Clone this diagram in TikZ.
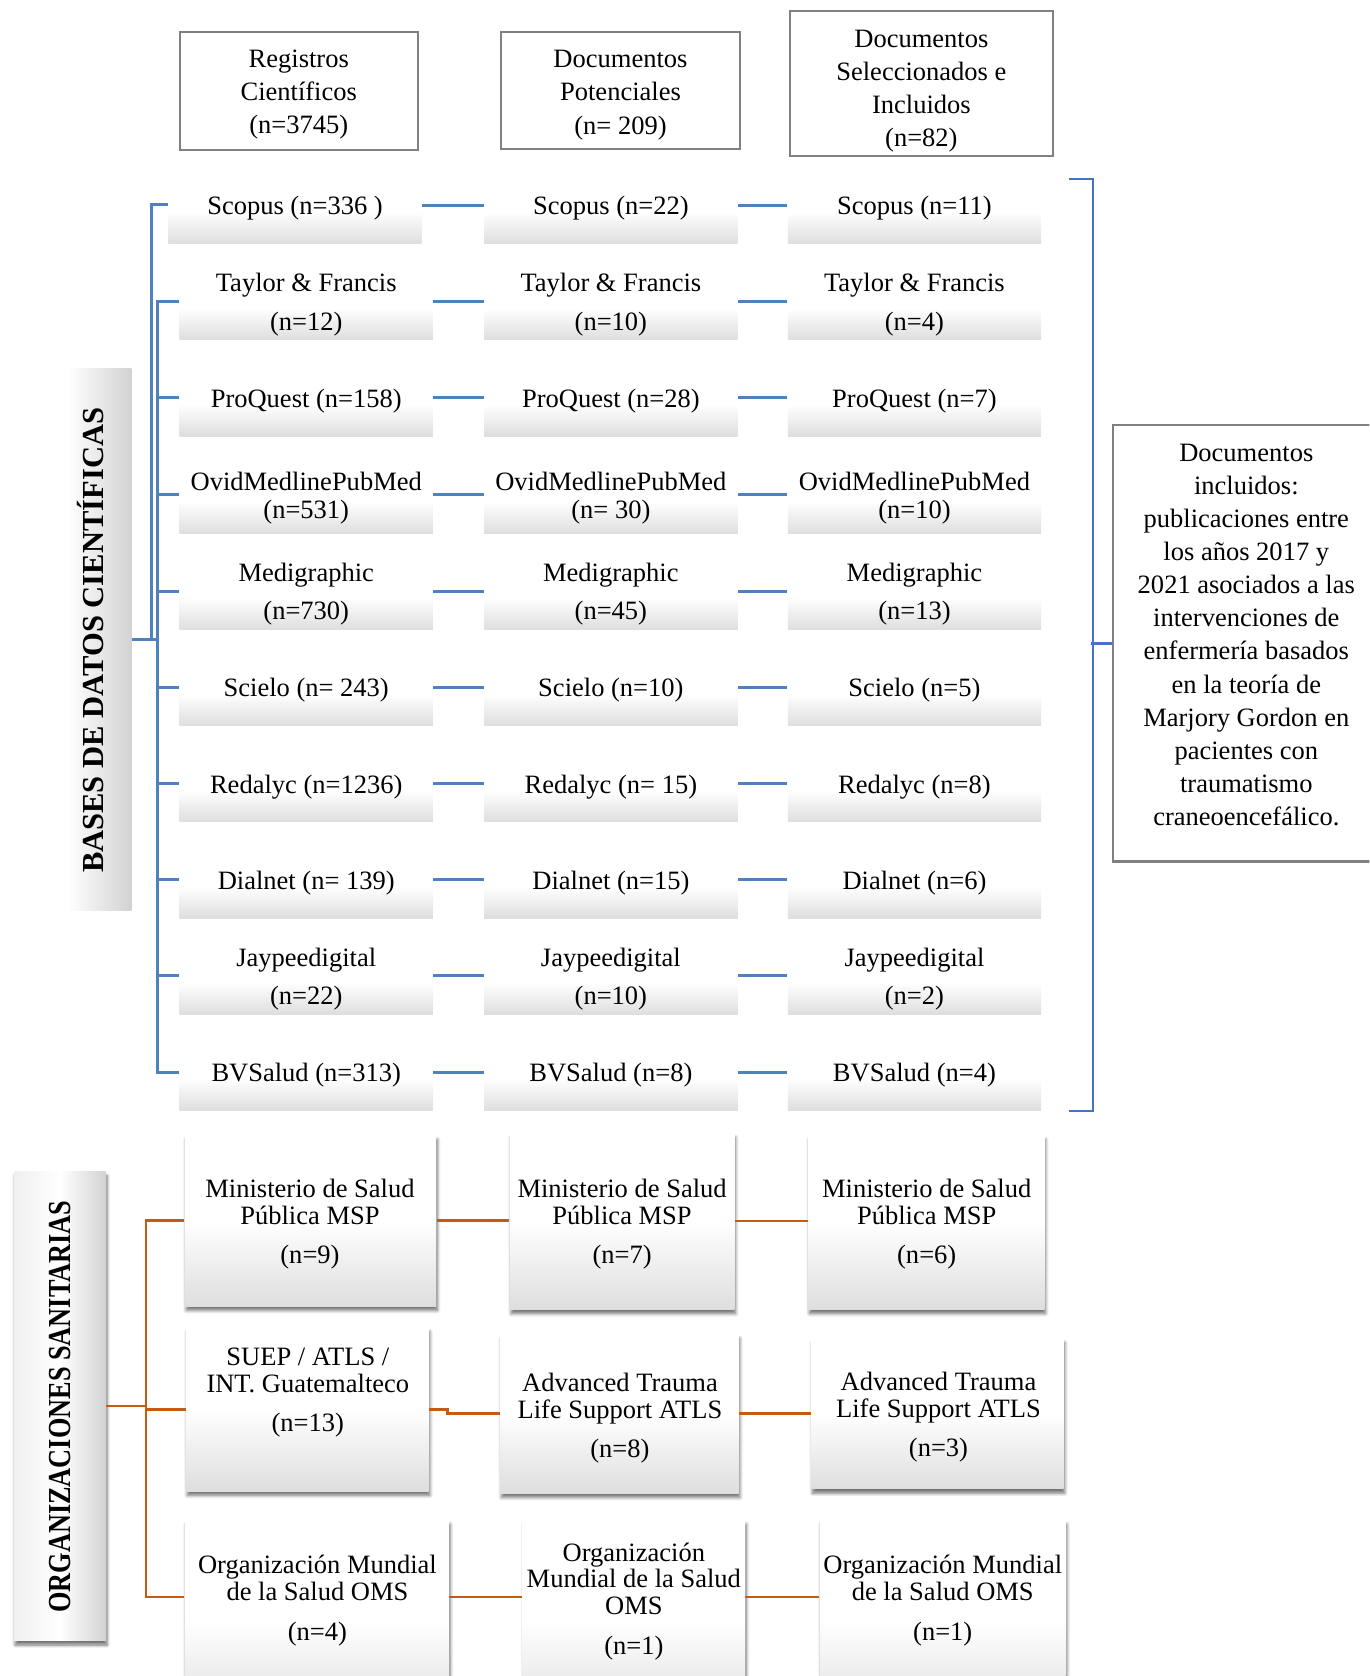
\documentclass[tikz,border=0pt]{standalone}
\usepackage{fontspec}
\setmainfont{Liberation Serif}
\usetikzlibrary{shadows.blur}
\definecolor{dbblue}{RGB}{79,129,189}
\definecolor{brblue}{RGB}{68,114,196}
\definecolor{orgor}{RGB}{197,90,17}
\definecolor{hdgray}{RGB}{128,128,128}
\definecolor{shgray}{RGB}{222,222,222}
\newcommand\mf{\fontsize{12.4}{15.5}\selectfont}
\tikzset{
  dbbox/.style={shade, top color=white, bottom color=shgray, middle color=white,
    minimum width=118.5pt, minimum height=30pt, inner sep=0pt},
  dbtxt/.style={align=center, inner sep=0pt},
  hdr/.style={draw=hdgray, line width=1pt, inner sep=0pt},
  hdrtxt/.style={align=center, font=\mf, inner sep=0pt},
  dbl/.style={draw=dbblue, line width=1.4pt},
  brk/.style={draw=brblue, line width=1pt},
  orgln/.style={draw=orgor, line width=1.2pt},
  softshadow/.style={blur shadow={shadow xshift=0.6pt, shadow yshift=-2pt, shadow blur radius=1.5pt, shadow blur steps=6, shadow opacity=55}},
  orgbox/.style={shade, top color=white, bottom color=shgray, middle color=white,
    inner sep=0pt, softshadow},
  orgtxt/.style={align=center, inner sep=0pt, font=\fontsize{12.4}{12.5}\selectfont},
  sidepanel/.style={shade, left color=white, right color=gray!35, inner sep=0pt},
}
\begin{document}
\begin{tikzpicture}[x=0.5pt,y=-0.5pt]
\useasboundingbox (0,0) rectangle (1281,1568);
\clip (0,0) rectangle (1281,1568);

% header boxes
\node[hdr, minimum width=111.5pt, minimum height=55pt] (h1) at (279.5,85) {};
\node[hdr, minimum width=111.5pt, minimum height=54.5pt] (h2) at (580.5,84.5) {};
\node[hdr, minimum width=123pt, minimum height=68pt] (h3) at (862,78) {};
\node[hdrtxt] (h1t) at (279.5,88.5) {Registros\\Científicos\\(n=3745)};
\node[hdrtxt] (h2t) at (580.5,89) {Documentos\\Potenciales\\(n= 209)};
\node[hdrtxt] (h3t) at (862,85.5) {Documentos\\Seleccionados e\\Incluidos\\(n=82)};

% database label
\node[sidepanel, minimum width=30pt, minimum height=253.5pt] (dblab) at (93,598.5) {};
\node[rotate=90, inner sep=0pt, font=\fontsize{14.3}{14.3}\selectfont\bfseries] (dbtext) at (85,599) {BASES DE DATOS CIENTÍFICAS};

% database rows
\foreach \ri/\cy/\xa/\bsk/\ta/\tb/\tc in {
1/198/276/18/{Scopus (n=336 )}/{Scopus (n=22)}/{Scopus (n=11)},
2/288/286.5/18/{Taylor \& Francis\\(n=12)}/{Taylor \& Francis\\(n=10)}/{Taylor \& Francis\\(n=4)},
3/378/286.5/18/{ProQuest (n=158)}/{ProQuest (n=28)}/{ProQuest (n=7)},
4/469/286.5/13/{OvidMedlinePubMed\\(n=531)}/{OvidMedlinePubMed\\(n= 30)}/{OvidMedlinePubMed\\(n=10)},
5/559/286.5/18/{Medigraphic\\(n=730)}/{Medigraphic\\(n=45)}/{Medigraphic\\(n=13)},
6/649/286.5/18/{Scielo (n= 243)}/{Scielo (n=10)}/{Scielo (n=5)},
7/739/286.5/18/{Redalyc (n=1236)}/{Redalyc (n= 15)}/{Redalyc (n=8)},
8/829/286.5/18/{Dialnet (n= 139)}/{Dialnet (n=15)}/{Dialnet (n=6)},
9/919/286.5/18/{Jaypeedigital\\(n=22)}/{Jaypeedigital\\(n=10)}/{Jaypeedigital\\(n=2)},
10/1009/286.5/18/{BVSalud (n=313)}/{BVSalud (n=8)}/{BVSalud (n=4)}}
{
  \node[dbbox] (a\ri) at (\xa,\cy) {};
  \node[dbbox] (b\ri) at (571.5,\cy) {};
  \node[dbbox] (c\ri) at (855.5,\cy) {};
  \node[dbtxt, font=\fontsize{12.4}{\bsk}\selectfont] (ta\ri) at ([yshift=1.5pt]a\ri.center) {\ta};
  \node[dbtxt, font=\fontsize{12.4}{\bsk}\selectfont] (tb\ri) at ([yshift=1.5pt]b\ri.center) {\tb};
  \node[dbtxt, font=\fontsize{12.4}{\bsk}\selectfont] (tc\ri) at ([yshift=1.5pt]c\ri.center) {\tc};
  \draw[dbl] ([yshift=3pt]a\ri.east) -- ([yshift=3pt]b\ri.west);
  \draw[dbl] ([yshift=3pt]b\ri.east) -- ([yshift=3pt]c\ri.west);
}
\draw[dbl] (dblab.east) -- ++(18,0) |- ([yshift=3.5pt]a1.west);
\foreach \ri in {2,...,10}{
  \draw[dbl] (dblab.east) -- ++(24,0) |- ([yshift=3pt]a\ri.west);
}

% right bracket and summary box
\node[draw=hdgray, line width=1pt, minimum width=125pt, minimum height=204pt, inner sep=0pt] (rbox) at (1166,602) {};
\node[align=center, inner sep=0pt, font=\mf] (rtext) at (1166,594) {Documentos\\incluidos:\\publicaciones entre\\los años 2017 y\\2021 asociados a las\\intervenciones de\\enfermería basados\\en la teoría de\\Marjory Gordon en\\pacientes con\\traumatismo\\craneoencefálico.};
\draw[brk] ([xshift=13pt]c1.north east) -- ([xshift=24pt]c1.north east) -- ([xshift=24pt]c10.south east) -- ([xshift=13pt]c10.south east);
\draw[brk] (rbox.west) -- ++(-19,0);

% organizations label
\node[sidepanel, left color=gray!12, right color=gray!35, middle color=white, minimum width=43pt, minimum height=219.5pt,
  softshadow] (orgl) at (56,1315.5) {};
\node[rotate=90, inner sep=0pt, font=\fontsize{15}{15}\selectfont\bfseries] (orgtext) at (56,1316) {\scalebox{0.82}[1]{ORGANIZACIONES SANITARIAS}};

% organization boxes
\node[orgbox, minimum width=117.5pt, minimum height=80pt] (o1a) at (290.5,1142) {};
\node[orgbox, minimum width=105pt, minimum height=82.5pt] (o1b) at (582,1142.5) {};
\node[orgbox, minimum width=110.5pt, minimum height=81.5pt] (o1c) at (866.5,1143.5) {};
\node[orgbox, minimum width=113.5pt, minimum height=76.5pt] (o2a) at (287.5,1318.5) {};
\node[orgbox, minimum width=111.5pt, minimum height=74.5pt] (o2b) at (579.5,1322.5) {};
\node[orgbox, minimum width=118pt, minimum height=70.5pt] (o2c) at (877,1322.5) {};
\node[orgbox, minimum width=123.5pt, minimum height=94pt] (o3a) at (296.5,1516) {};
\node[orgbox, minimum width=104pt, minimum height=94pt] (o3b) at (593,1516) {};
\node[orgbox, minimum width=115pt, minimum height=94pt] (o3c) at (882,1516) {};

\node[orgtxt] (p1a) at (290,1145.5) {Ministerio de Salud\\Pública MSP\\[6pt](n=9)};
\node[orgtxt] (p1b) at (582,1145.5) {Ministerio de Salud\\Pública MSP\\[6pt](n=7)};
\node[orgtxt] (p1c) at (867,1145.5) {Ministerio de Salud\\Pública MSP\\[6pt](n=6)};
\node[orgtxt] (p2a) at (288,1303) {SUEP / ATLS /\\INT. Guatemalteco\\[6pt](n=13)};
\node[orgtxt] (p2b) at (580,1327) {Advanced Trauma\\Life Support ATLS\\[6pt](n=8)};
\node[orgtxt] (p2c) at (878,1326) {Advanced Trauma\\Life Support ATLS\\[6pt](n=3)};
\node[orgtxt] (p3a) at (297,1497.5) {Organización Mundial\\de la Salud OMS\\[6pt](n=4)};
\node[orgtxt] (p3b) at (593,1498) {Organización\\Mundial de la Salud\\OMS\\[6pt](n=1)};
\node[orgtxt] (p3c) at (882,1497.5) {Organización Mundial\\de la Salud OMS\\[6pt](n=1)};

% organization connectors
\draw[orgln] (orgl.east) -- ++(37,0) |- (o1a.west);
\draw[orgln] (orgl.east) -- ++(37,0) |- (o2a.west);
\draw[orgln] (orgl.east) -- ++(37,0) |- ([yshift=11pt]o3a.west);
\draw[orgln] (o1a.east) -- (o1a.east -| o1b.west);
\draw[orgln] (o1b.east) -- (o1b.east -| o1c.west);
\draw[orgln] (o2a.east) -- ++(17,0) |- (o2b.west);
\draw[orgln] (o2b.east) -- (o2b.east -| o2c.west);
\draw[orgln] ([yshift=11pt]o3a.east) -- ([yshift=11pt]o3b.west);
\draw[orgln] ([yshift=11pt]o3b.east) -- ([yshift=11pt]o3c.west);
\end{tikzpicture}
\end{document}
